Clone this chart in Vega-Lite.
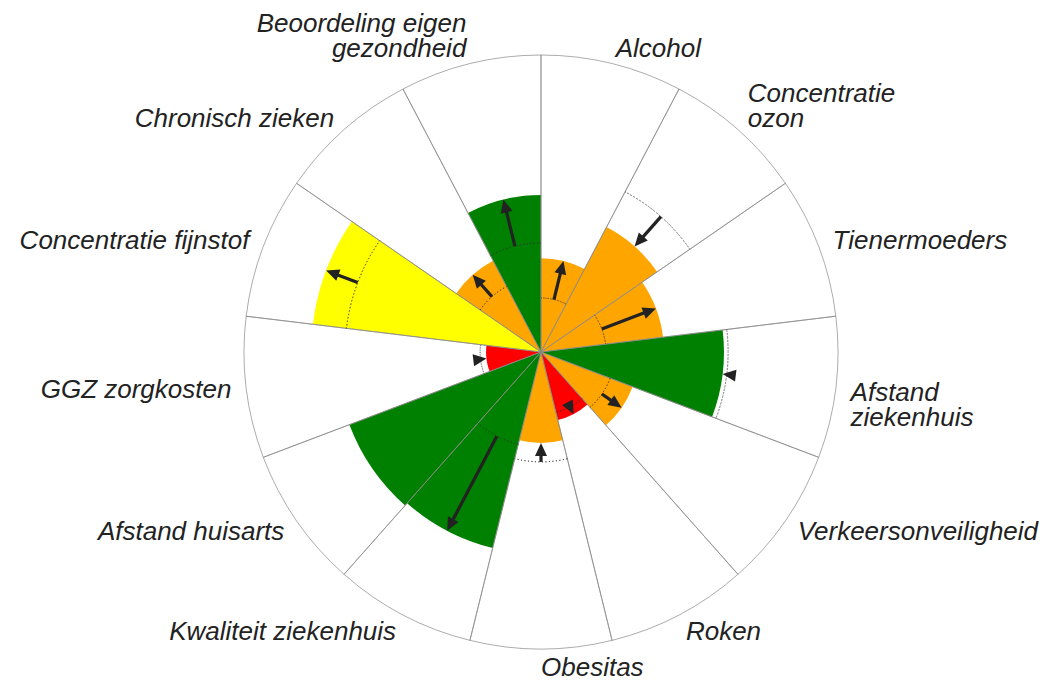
{
  "$schema": "https://vega.github.io/schema/vega-lite/v6.json",
  "width": 594,
  "height": 594,
  "autosize": {"type": "none"},
  "padding": {"left": 244, "top": 55, "right": 225, "bottom": 32},
  "background": "white",
  "config": {"view": {"stroke": null}},
  "data": {
    "values": [
      {"i": 0, "lab": "Alcohol", "waarde": 31.6, "ref": 18.2, "klasse": "gemiddeld"},
      {"i": 1, "lab": "Concentratie\nozon", "waarde": 47.5, "ref": 60.9, "klasse": "gemiddeld"},
      {"i": 2, "lab": "Tienermoeders", "waarde": 41.4, "ref": 21.9, "klasse": "gemiddeld"},
      {"i": 3, "lab": "Afstand\nziekenhuis", "waarde": 61.6, "ref": 63.0, "klasse": "gunstig"},
      {"i": 4, "lab": "Verkeersonveiligheid", "waarde": 33.0, "ref": 24.9, "klasse": "gemiddeld"},
      {"i": 5, "lab": "Roken", "waarde": 23.6, "ref": 20.9, "klasse": "ongunstig"},
      {"i": 6, "lab": "Obesitas", "waarde": 30.6, "ref": 37.0, "klasse": "gemiddeld"},
      {"i": 7, "lab": "Kwaliteit ziekenhuis", "waarde": 68.0, "ref": 32.0, "klasse": "gunstig"},
      {"i": 8, "lab": "Afstand huisarts", "waarde": 69.0, "ref": null, "klasse": "gunstig"},
      {"i": 9, "lab": "GGZ zorgkosten", "waarde": 18.5, "ref": 20.5, "klasse": "ongunstig"},
      {"i": 10, "lab": "Concentratie fijnstof", "waarde": 77.4, "ref": 66.0, "klasse": "matig"},
      {"i": 11, "lab": "Chronisch zieken", "waarde": 34.7, "ref": 24.9, "klasse": "gemiddeld"},
      {"i": 12, "lab": "Beoordeling eigen\ngezondheid", "waarde": 52.9, "ref": 36.7, "klasse": "gunstig"}
    ]
  },
  "transform": [
    {"calculate": "datum.i * 2 * PI / 13", "as": "t0"},
    {"calculate": "(datum.i + 1) * 2 * PI / 13", "as": "t1"},
    {"calculate": "(datum.i + 0.5) * 2 * PI / 13", "as": "tm"},
    {"calculate": "sin(datum.tm)", "as": "sx"},
    {"calculate": "cos(datum.tm)", "as": "cy"},
    {"calculate": "datum.waarde * datum.sx", "as": "xv"},
    {"calculate": "datum.waarde * datum.cy", "as": "yv"},
    {"calculate": "datum.ref == null ? 0 : datum.ref * datum.sx", "as": "xr"},
    {"calculate": "datum.ref == null ? 0 : datum.ref * datum.cy", "as": "yr"},
    {"calculate": "datum.ref == null ? 1 : (datum.waarde > datum.ref ? 1 : -1)", "as": "dir"},
    {"calculate": "datum.ref == null ? 0 : datum.waarde - datum.dir * min(4.2, abs(datum.waarde - datum.ref))", "as": "sh"},
    {"calculate": "datum.sh * datum.sx", "as": "xs"},
    {"calculate": "datum.sh * datum.cy", "as": "ys"},
    {"calculate": "(datum.i + 0.5) * 360 / 13 + (datum.dir > 0 ? 0 : 180)", "as": "ang"},
    {"calculate": "indexof(datum.lab, '\\n') >= 0 ? (datum.cy > 0 ? 8.42 : -1.0) : 0", "as": "ladj"},
    {"calculate": "105 * datum.sx", "as": "xl"},
    {"calculate": "105 * datum.cy + 1.4 * min(datum.cy, 0) + datum.ladj", "as": "yl"}
  ],
  "layer": [
    {
      "mark": {"type": "arc", "stroke": null},
      "encoding": {
        "theta": {"field": "t0", "type": "quantitative", "scale": null, "stack": null},
        "theta2": {"field": "t1"},
        "radius": {"field": "waarde", "type": "quantitative", "scale": {"type": "linear", "domain": [0, 100], "range": [0, 297], "zero": true}},
        "color": {
          "field": "klasse",
          "type": "nominal",
          "scale": {"domain": ["gunstig", "gemiddeld", "ongunstig", "matig"], "range": ["#008000", "#FFA500", "#FF0000", "#FFFF00"]},
          "legend": null
        }
      }
    },
    {
      "mark": {"type": "arc", "fill": "white", "fillOpacity": 0, "stroke": "#888888", "strokeWidth": 0.7},
      "encoding": {
        "theta": {"field": "t0", "type": "quantitative", "scale": null, "stack": null},
        "theta2": {"field": "t1"},
        "radius": {"value": 297}
      }
    },
    {
      "transform": [{"filter": "datum.ref != null"}],
      "mark": {"type": "arc", "fill": "white", "fillOpacity": 0, "stroke": "#333333", "strokeWidth": 0.8, "strokeDash": [1, 2.5]},
      "encoding": {
        "theta": {"field": "t0", "type": "quantitative", "scale": null, "stack": null},
        "theta2": {"field": "t1"},
        "radius": {"field": "ref", "type": "quantitative", "scale": {"type": "linear", "domain": [0, 100], "range": [0, 297], "zero": true}},
        "radius2": {"field": "ref"}
      }
    },
    {
      "transform": [{"filter": "datum.ref != null"}],
      "mark": {"type": "rule", "color": "#222222", "strokeWidth": 3.2},
      "encoding": {
        "x": {"field": "xr", "type": "quantitative", "scale": {"domain": [-100, 100], "nice": false, "zero": false}, "axis": null},
        "y": {"field": "yr", "type": "quantitative", "scale": {"domain": [-100, 100], "nice": false, "zero": false}, "axis": null},
        "x2": {"field": "xs"},
        "y2": {"field": "ys"}
      }
    },
    {
      "transform": [{"filter": "datum.ref != null"}],
      "mark": {"type": "point", "shape": "M0,0L-1,2.2L1,2.2Z", "filled": true, "size": 144, "color": "#222222", "opacity": 1, "strokeWidth": 0},
      "encoding": {
        "x": {"field": "xv", "type": "quantitative", "scale": {"domain": [-100, 100], "nice": false, "zero": false}, "axis": null},
        "y": {"field": "yv", "type": "quantitative", "scale": {"domain": [-100, 100], "nice": false, "zero": false}, "axis": null},
        "angle": {"field": "ang", "type": "quantitative", "scale": null}
      }
    },
    {
      "transform": [{"filter": "datum.i <= 6"}],
      "mark": {"type": "text", "align": "left", "baseline": "middle", "font": "Liberation Sans", "fontStyle": "italic", "fontSize": 26, "lineBreak": "\n", "lineHeight": 25, "color": "#222222"},
      "encoding": {
        "x": {"field": "xl", "type": "quantitative", "scale": {"domain": [-100, 100], "nice": false, "zero": false}, "axis": null},
        "y": {"field": "yl", "type": "quantitative", "scale": {"domain": [-100, 100], "nice": false, "zero": false}, "axis": null},
        "text": {"field": "lab"}
      }
    },
    {
      "transform": [{"filter": "datum.i > 6"}],
      "mark": {"type": "text", "align": "right", "baseline": "middle", "font": "Liberation Sans", "fontStyle": "italic", "fontSize": 26, "lineBreak": "\n", "lineHeight": 25, "color": "#222222"},
      "encoding": {
        "x": {"field": "xl", "type": "quantitative", "scale": {"domain": [-100, 100], "nice": false, "zero": false}, "axis": null},
        "y": {"field": "yl", "type": "quantitative", "scale": {"domain": [-100, 100], "nice": false, "zero": false}, "axis": null},
        "text": {"field": "lab"}
      }
    }
  ]
}
